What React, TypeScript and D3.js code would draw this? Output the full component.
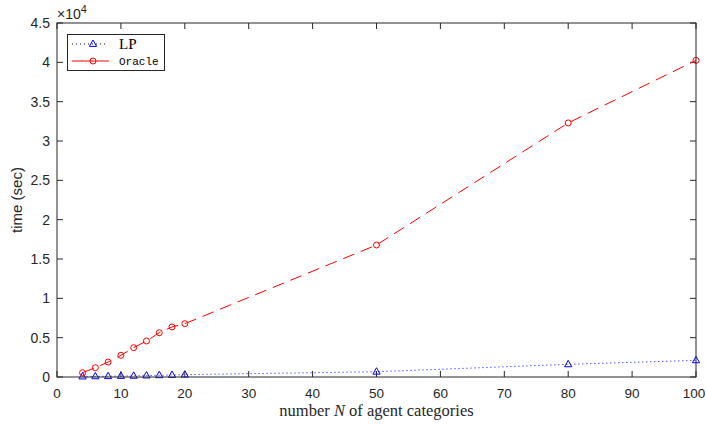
import React from "react";
import * as d3 from "d3";

const nValues = [4, 6, 8, 10, 12, 14, 16, 18, 20, 50, 80, 100];
const lpTimes = [60, 80, 100, 130, 150, 180, 220, 260, 300, 670, 1610, 2120];
const oracleTimes = [550, 1180, 1900, 2760, 3730, 4580, 5630, 6360, 6780, 16780, 32300, 40250];
const xTicks = [0, 10, 20, 30, 40, 50, 60, 70, 80, 90, 100];
const yTicks = [0, 5000, 10000, 15000, 20000, 25000, 30000, 35000, 40000, 45000];
const yTickLabels = ["0", "0.5", "1", "1.5", "2", "2.5", "3", "3.5", "4", "4.5"];

const W = 706, H = 425;
const L = 57, R = 696, T = 23, B = 377;

export default function App() {
  const x = d3.scaleLinear().domain([0, 100]).range([L, R]);
  const y = d3.scaleLinear().domain([0, 45000]).range([B, T]);
  const line = d3.line<[number, number]>().x(d => x(d[0])).y(d => y(d[1]));
  const lpPts = nValues.map((n, i) => [n, lpTimes[i]] as [number, number]);
  const orPts = nValues.map((n, i) => [n, oracleTimes[i]] as [number, number]);
  const tri = (cx: number, cy: number, s = 4) =>
    `M${cx},${cy - s}L${cx + s * 0.9},${cy + s * 0.6}L${cx - s * 0.9},${cy + s * 0.6}Z`;
  const tl = 6;
  const sans = "'Liberation Sans', Arial, sans-serif";
  const serif = "'Liberation Serif', 'Times New Roman', serif";
  return (
    <svg width={W} height={H} style={{ position: "absolute", left: 0, top: 0, background: "#fff" }}>
      <rect x={0} y={0} width={W} height={H} fill="#fff" />
      {xTicks.map(t => (
        <g key={"x" + t}>
          <line x1={x(t)} x2={x(t)} y1={B} y2={B - tl} stroke="#262626" strokeWidth={1} />
          <line x1={x(t)} x2={x(t)} y1={T} y2={T + tl} stroke="#262626" strokeWidth={1} />
          <text x={t === 100 ? x(t) - 2 : x(t)} y={398} textAnchor="middle" fontFamily={sans} fontSize={13.5} fill="#262626">{t}</text>
        </g>
      ))}
      {yTicks.map((t, i) => (
        <g key={"y" + t}>
          <line x1={L} x2={L + tl} y1={y(t)} y2={y(t)} stroke="#262626" strokeWidth={1} />
          <line x1={R} x2={R - tl} y1={y(t)} y2={y(t)} stroke="#262626" strokeWidth={1} />
          <text x={50} y={y(t) + 5} textAnchor="end" fontFamily={sans} fontSize={14} fill="#262626">{yTickLabels[i]}</text>
        </g>
      ))}
      <text x={57} y={19} fontFamily={sans} fontSize={14} fill="#262626">×10<tspan dy={-6} fontSize={11}>4</tspan></text>
      <path d={line(lpPts) || ""} fill="none" stroke="#0000ff" strokeWidth={1} strokeDasharray="1,3" />
      <path d={line(orPts) || ""} fill="none" stroke="#ff0000" strokeWidth={1} strokeDasharray="12,7" />
      {lpPts.map((p, i) => (
        <path key={"lp" + i} d={tri(x(p[0]), y(p[1]))} fill="none" stroke="#0000ff" strokeWidth={1} />
      ))}
      {orPts.map((p, i) => (
        <circle key={"or" + i} cx={x(p[0])} cy={y(p[1])} r={3} fill="none" stroke="#ff0000" strokeWidth={1} />
      ))}
      <rect x={L} y={T} width={R - L} height={B - T} fill="none" stroke="#262626" strokeWidth={1} />
      <rect x={67.5} y={34.5} width={97} height={36} fill="#fff" stroke="#262626" strokeWidth={1} />
      <line x1={72} x2={108} y1={44} y2={44} stroke="#0000ff" strokeWidth={1} strokeDasharray="1,3" />
      <path d={tri(93, 44)} fill="none" stroke="#0000ff" strokeWidth={1} />
      <text x={119} y={49} fontFamily={serif} fontSize={15} fill="#000">LP</text>
      <line x1={72} x2={109} y1={61} y2={61} stroke="#ff0000" strokeWidth={1} />
      <circle cx={93} cy={61} r={3} fill="none" stroke="#ff0000" strokeWidth={1} />
      <text x={119} y={65} fontFamily="'Liberation Mono', 'Courier New', monospace" fontSize={11} fill="#000">Oracle</text>
      <text x={(L + R) / 2} y={416} textAnchor="middle" fontFamily={serif} fontSize={16.5} fill="#262626">
        number <tspan fontStyle="italic">N</tspan> of agent categories
      </text>
      <text transform={`translate(22,${(T + B) / 2}) rotate(-90)`} textAnchor="middle" fontFamily={sans} fontSize={15} fill="#262626">time (sec)</text>
    </svg>
  );
}
